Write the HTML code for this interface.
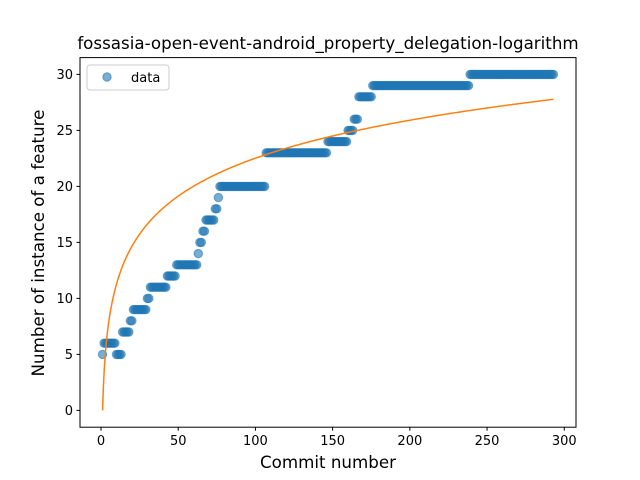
<!DOCTYPE html>
<html><head><meta charset="utf-8"><style>
body{margin:0;background:#fff;}
svg{display:block;font-family:"DejaVu Sans","Liberation Sans",sans-serif;}
</style></head><body>
<svg id="chart" width="640" height="480">
<rect width="640" height="480" fill="#fff"/>
<text x="328" y="49" text-anchor="middle" font-size="16.7">fossasia-open-event-android_property_delegation-logarithm</text>
<g id="plot"></g>
<rect x="80" y="57.6" width="496" height="369.6" fill="none" stroke="#000" stroke-width="1"/>
<text x="328" y="468" text-anchor="middle" font-size="16.7">Commit number</text>
<text transform="translate(44,243) rotate(-90)" text-anchor="middle" font-size="16.7">Number of instance of a feature</text>
<g>
<rect x="87" y="65" width="82" height="25" rx="3" fill="#fff" fill-opacity="0.8" stroke="#ccc"/>
<circle cx="107" cy="77" r="4.2" fill="#1f77b4" fill-opacity="0.6" stroke="#1f77b4" stroke-opacity="0.6"/>
<text x="131" y="82" font-size="13">data</text>
</g>
</svg>
<script>
const runStart=[1,2,10,14,19,21,30,32,43,49,63,64,66,68,74,76,77,107,147,160,164,167,176,239];
const runEnd=[1,9,13,18,20,29,31,42,48,62,63,65,67,73,75,76,106,146,159,163,166,175,238,293];
const runValue=[5,6,5,7,8,9,10,11,12,13,14,15,16,17,18,19,20,23,24,25,26,28,29,30];
const xTicks=[0,50,100,150,200,250,300];
const yTicks=[0,5,10,15,20,25,30];
const fitA=4.89, fitB=0;
const X0=80,X1=576,Y0=427.2,Y1=57.6;
const xmin=-13.6,xmax=307.6,ymin=-1.5,ymax=31.5;
function sx(v){return X0+(v-xmin)/(xmax-xmin)*(X1-X0);}
function sy(v){return Y0-(v-ymin)/(ymax-ymin)*(Y0-Y1);}
const NS="http://www.w3.org/2000/svg";
const svg=document.getElementById('chart');
const plot=document.getElementById('plot');
function mk(t,a,p){const e=document.createElementNS(NS,t);for(const k in a)e.setAttribute(k,a[k]);(p||svg).appendChild(e);return e;}
xTicks.forEach(t=>{
 const l=mk('line',{x1:sx(t),x2:sx(t),y1:Y0,y2:Y0+3.5,stroke:'#000'});
 
 
 const tx=mk('text',{x:sx(t),y:Y0+18,'text-anchor':'middle','font-size':13});
 tx.textContent=t;
 
 
});
yTicks.forEach(t=>{
 const l=mk('line',{x1:X0-3.5,x2:X0,y1:sy(t),y2:sy(t),stroke:'#000'});
 
 
 const tx=mk('text',{x:X0-7,y:sy(t)+4.5,'text-anchor':'end','font-size':13});
 tx.textContent=t;
 
 
});
for(let i=0;i<runStart.length;i++){
 for(let x=runStart[i];x<=runEnd[i];x++){
  const c=mk('circle',{cx:sx(x),cy:sy(runValue[i]),r:4.2,fill:'#1f77b4','fill-opacity':0.6,stroke:'#1f77b4','stroke-opacity':0.6},plot);
  
  
 }
}
let d='';
const last=runEnd[runEnd.length-1];
for(let x=1;x<=last;x+=0.5){d+=(d?'L':'M')+sx(x).toFixed(2)+','+sy(fitA*Math.log(x)+fitB).toFixed(2);}
const p=mk('path',{d:d,fill:'none',stroke:'#ff7f0e','stroke-width':1.5},plot);


</script>
</body></html>
